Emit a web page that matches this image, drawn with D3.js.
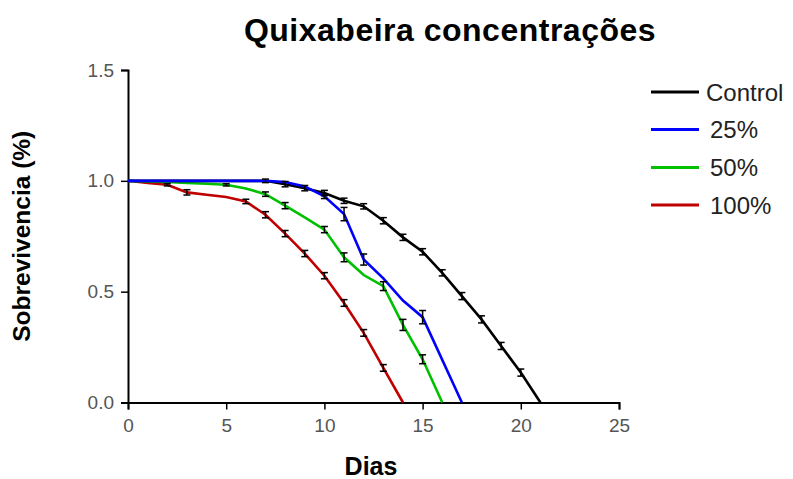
<!DOCTYPE html>
<html>
<head>
<meta charset="utf-8">
<script src="https://cdn.jsdelivr.net/npm/d3@7"></script>
<style>
  html, body { margin: 0; padding: 0; background: #fff; }
  svg { display: block; }
</style>
</head>
<body>
<svg id="chart" width="793" height="479"></svg>
<script>
// ---- data ----
const title = "Quixabeira concentrações";
const xLabel = "Dias";
const yLabel = "Sobrevivencia (%)";
const xTicks = [0, 5, 10, 15, 20, 25];
const yTicks = [0.0, 0.5, 1.0, 1.5];

const seriesNames = ["Control", "25%", "50%", "100%"];

const controlDays = [0,1,2,3,4,5,6,7,8,9,10,11,12,13,14,15,16,17,18,19,20,21];
const controlVals = [1,1,1,1,1,1,1,1,0.985,0.967,0.945,0.91,0.885,0.82,0.745,0.68,0.585,0.48,0.375,0.255,0.135,0];
const controlErr  = [0,0,0,0,0,0,0,0.008,0.012,0.012,0.012,0.012,0.012,0.014,0.014,0.014,0.014,0.016,0.016,0.016,0.016,0];

const p25Days = [0,1,2,3,4,5,6,7,8,9,10,11,12,13,14,15,17];
const p25Vals = [1,1,1,1,1,1,1,1,0.995,0.975,0.93,0.85,0.645,0.56,0.46,0.385,0];
const p25Err  = [0,0,0,0,0,0,0,0,0,0,0.01,0.03,0.025,0,0,0.03,0];

const p50Days = [0,1,2,3,4,5,6,7,8,9,10,11,12,13,14,15,16];
const p50Vals = [1,0.997,0.995,0.99,0.987,0.982,0.965,0.94,0.888,0.835,0.78,0.655,0.575,0.525,0.35,0.195,0];
const p50Err  = [0,0,0,0,0,0.005,0,0.01,0.014,0,0.014,0.02,0,0.02,0.025,0.02,0];

const p100Days = [0,1,2,3,4,5,6,7,8,9,10,11,12,13,14];
const p100Vals = [1,0.99,0.982,0.948,0.937,0.927,0.907,0.847,0.762,0.672,0.572,0.449,0.314,0.156,0];
const p100Err  = [0,0,0.005,0.012,0,0,0.01,0.014,0.014,0.014,0.014,0.015,0.015,0.015,0];

const seriesColors = ["#000000", "#0000ff", "#00c000", "#c00000"];

// ---- build ----
const series = [
  {name: seriesNames[0], days: controlDays, vals: controlVals, err: controlErr, color: seriesColors[0]},
  {name: seriesNames[1], days: p25Days, vals: p25Vals, err: p25Err, color: seriesColors[1]},
  {name: seriesNames[2], days: p50Days, vals: p50Vals, err: p50Err, color: seriesColors[2]},
  {name: seriesNames[3], days: p100Days, vals: p100Vals, err: p100Err, color: seriesColors[3]}
].map(s => ({...s, pts: s.days.map((d, i) => ({d, v: s.vals[i], e: s.err[i]}))}));

const svg = d3.select("#chart");
const x = d3.scaleLinear().domain([0, 25]).range([128, 619]);
const y = d3.scaleLinear().domain([0, 1.5]).range([402.5, 70]);

const font = "Arial, 'Liberation Sans', sans-serif";

// title
svg.append("text")
  .attr("x", 450).attr("y", 41)
  .attr("text-anchor", "middle")
  .style("font-family", font).style("font-weight", "bold").style("font-size", "32px")
  .style("letter-spacing", "0.5px")
  .text(title);

// axes
const xAxis = svg.append("g").attr("transform", `translate(0,${y(0)})`)
  .call(d3.axisBottom(x).tickValues(xTicks).tickFormat(d3.format("d")).tickSize(7).tickPadding(9));
const yAxis = svg.append("g").attr("transform", `translate(${x(0)},0)`)
  .call(d3.axisLeft(y).tickValues(yTicks).tickFormat(d3.format(".1f")).tickSize(7).tickPadding(7));
[xAxis, yAxis].forEach(g => {
  g.select(".domain").attr("stroke", "#000").attr("stroke-width", 2);
  g.selectAll(".tick line").attr("stroke", "#000").attr("stroke-width", 1.5);
  g.selectAll(".tick text").attr("fill", "#555").style("font-family", font).style("font-size", "19px");
});

// axis labels
svg.append("text")
  .attr("x", 371).attr("y", 475)
  .attr("text-anchor", "middle")
  .style("font-family", font).style("font-weight", "bold").style("font-size", "25px")
  .text(xLabel);
svg.append("text")
  .attr("transform", `translate(30,${(y(0) + y(1.5)) / 2}) rotate(-90)`)
  .attr("text-anchor", "middle")
  .style("font-family", font).style("font-weight", "bold").style("font-size", "24.5px")
  .text(yLabel);

// lines (drawing order: red, green, black, blue)
const line = d3.line().x(p => x(p.d)).y(p => y(p.v));
const order = [3, 2, 0, 1];
order.forEach(i => {
  const s = series[i];
  svg.append("path")
    .datum(s.pts)
    .attr("fill", "none")
    .attr("stroke", s.color)
    .attr("stroke-width", 2.6)
    .attr("d", line);
});

// error bars
const cap = 3.5;
series.forEach(s => {
  const g = svg.append("g").attr("stroke", "#000").attr("stroke-width", 1.5);
  s.pts.filter(p => p.e > 0).forEach(p => {
    const cx = x(p.d), y1 = y(p.v + p.e), y2 = y(p.v - p.e);
    g.append("line").attr("x1", cx).attr("x2", cx).attr("y1", y1).attr("y2", y2);
    g.append("line").attr("x1", cx - cap).attr("x2", cx + cap).attr("y1", y1).attr("y2", y1);
    g.append("line").attr("x1", cx - cap).attr("x2", cx + cap).attr("y1", y2).attr("y2", y2);
  });
});

// legend
const legY = [92, 129.5, 167.5, 205];
series.forEach((s, i) => {
  svg.append("line")
    .attr("x1", 651).attr("x2", 699).attr("y1", legY[i]).attr("y2", legY[i])
    .attr("stroke", s.color).attr("stroke-width", 3);
  svg.append("text")
    .attr("x", i === 0 ? 706 : 710).attr("y", legY[i]).attr("dy", "0.36em")
    .style("font-family", font).style("font-size", "24px")
    .attr("fill", "#222")
    .text(s.name);
});
</script>
</body>
</html>
